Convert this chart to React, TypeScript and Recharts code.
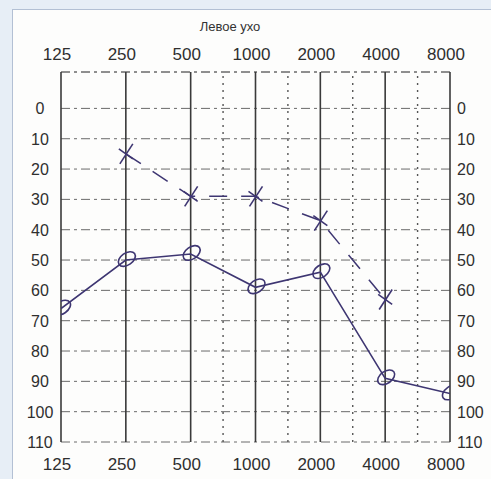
import React from "react";
import { LineChart, Line, XAxis, YAxis, CartesianGrid, ReferenceLine } from "recharts";

// audiogram, left ear
const frequencies = [125, 250, 500, 1000, 2000, 4000, 8000];
const halfOctaves = [707, 1414, 2828, 5657];
const dbTicks = [0, 10, 20, 30, 40, 50, 60, 70, 80, 90, 100, 110];
const circleValues = [66, 50, 48, 59, 54, 89, 94];
const crossValues = [null, 15, 29, 29, 37, 63, null];

const data = frequencies.map((f, i) => ({ f, o: circleValues[i], x: crossValues[i] }));

const ink = "#3e3672";
const gridInk = "#3a3a3a";
const labelFont = "'Liberation Sans', Arial, sans-serif";

const TopTick = (props: any) => (
  <text x={props.x - 4} y={props.y - 4} textAnchor="middle" fontSize={17} fill="#2f2f2f" fontFamily={labelFont}>
    {props.payload.value}
  </text>
);

const BottomTick = (props: any) => (
  <text x={props.x - 4} y={props.y + 20} textAnchor="middle" fontSize={17} fill="#2f2f2f" fontFamily={labelFont}>
    {props.payload.value}
  </text>
);

const LeftTick = (props: any) => (
  <text x={40} y={props.y + 6} textAnchor="middle" fontSize={16} fill="#2f2f2f" fontFamily={labelFont}>
    {props.payload.value}
  </text>
);

const RightTick = (props: any) => (
  <text x={457} y={props.y + 6} textAnchor="start" fontSize={16} fill="#2f2f2f" fontFamily={labelFont}>
    {props.payload.value}
  </text>
);

const CircleDot = (props: any) => {
  const { cx, cy } = props;
  if (cx == null || cy == null) return null;
  return (
    <ellipse
      cx={cx + 1}
      cy={cy - 1}
      rx={9.5}
      ry={6}
      transform={`rotate(-35 ${cx + 1} ${cy - 1})`}
      fill="none"
      stroke={ink}
      strokeWidth={1.6}
    />
  );
};

const CrossDot = (props: any) => {
  const { cx, cy } = props;
  if (cx == null || cy == null) return null;
  return (
    <g stroke={ink} strokeWidth={1.6}>
      <line x1={cx - 6} y1={cy + 10} x2={cx + 7} y2={cy - 10} />
      <line x1={cx - 7} y1={cy - 5} x2={cx + 7} y2={cy + 5} />
    </g>
  );
};

export default function App() {
  return (
    <div style={{ position: "fixed", left: 0, top: 0, width: 491, height: 479, background: "#e7eef6", overflow: "hidden" }}>
      <div
        style={{
          position: "absolute",
          left: 12,
          top: 9,
          width: 490,
          height: 480,
          background: "#fdfdfc",
          border: "1px solid #b3c0d4",
        }}
      />
      <div
        style={{
          position: "absolute",
          left: 0,
          top: 19,
          width: 460,
          textAlign: "center",
          fontFamily: labelFont,
          fontSize: 13,
          color: "#333",
        }}
      >
        Левое ухо
      </div>
      <div style={{ position: "absolute", left: 0, top: 0 }}>
        <LineChart width={491} height={479} data={data} margin={{ top: 42, right: 1, bottom: 7, left: 21 }}>
          <CartesianGrid vertical={false} stroke="#6a6a6a" strokeDasharray="9 4 3 4" strokeWidth={1} />
          <XAxis
            dataKey="f"
            type="number"
            scale="log"
            domain={[125, 8000]}
            ticks={frequencies}
            allowDataOverflow
            height={30}
            axisLine={false}
            tickLine={false}
            tick={<BottomTick />}
            interval={0}
          />
          <XAxis
            xAxisId="top"
            orientation="top"
            dataKey="f"
            type="number"
            scale="log"
            domain={[125, 8000]}
            ticks={frequencies}
            allowDataOverflow
            height={30}
            axisLine={false}
            tickLine={false}
            tick={<TopTick />}
            interval={0}
          />
          <YAxis
            type="number"
            reversed
            domain={[-12, 110]}
            ticks={dbTicks}
            allowDataOverflow
            width={40}
            axisLine={false}
            tickLine={false}
            tick={<LeftTick />}
            interval={0}
          />
          <YAxis
            yAxisId="right"
            orientation="right"
            type="number"
            reversed
            domain={[-12, 110]}
            ticks={dbTicks}
            allowDataOverflow
            width={40}
            axisLine={false}
            tickLine={false}
            tick={<RightTick />}
            interval={0}
          />
          <ReferenceLine y={-12} stroke="#6a6a6a" strokeDasharray="9 4 3 4" />
          {halfOctaves.map((f) => (
            <ReferenceLine key={f} x={f} stroke="#555" strokeDasharray="2 5" strokeWidth={1.4} />
          ))}
          {frequencies.map((f) => (
            <ReferenceLine key={f} x={f} stroke={gridInk} strokeWidth={1.6} />
          ))}
          <Line
            dataKey="o"
            stroke={ink}
            strokeWidth={1.6}
            dot={<CircleDot />}
            activeDot={false}
            isAnimationActive={false}
          />
          <Line
            dataKey="x"
            stroke={ink}
            strokeWidth={1.5}
            strokeDasharray="18 14"
            dot={<CrossDot />}
            activeDot={false}
            isAnimationActive={false}
          />
        </LineChart>
      </div>
    </div>
  );
}
